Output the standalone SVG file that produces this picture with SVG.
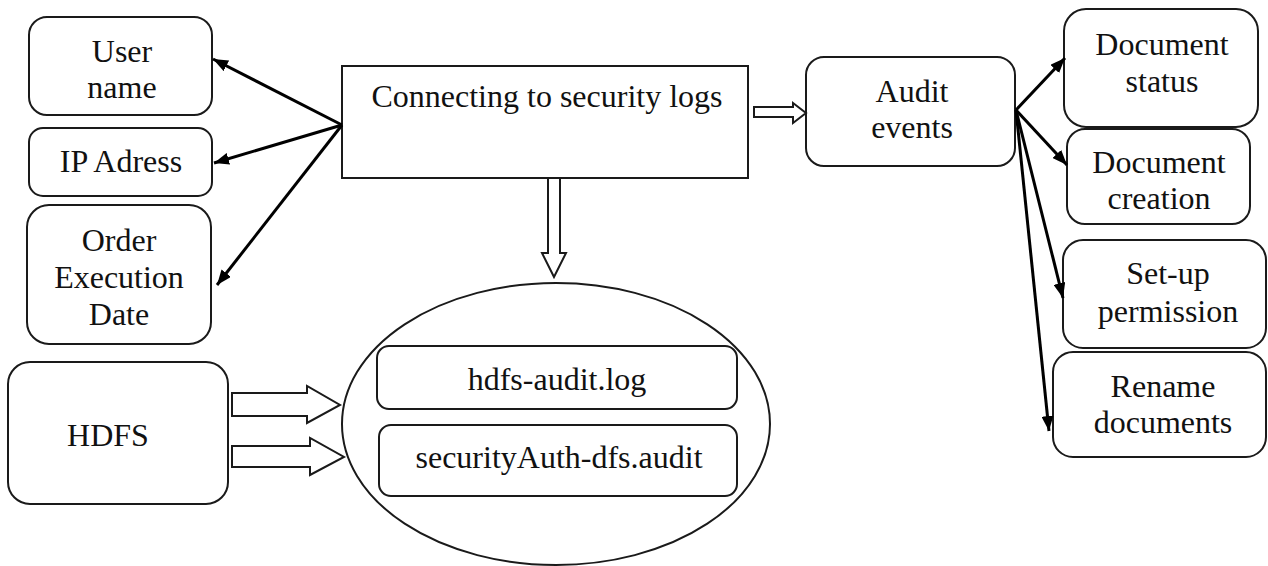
<svg xmlns="http://www.w3.org/2000/svg" width="1268" height="566" viewBox="0 0 1268 566">
<defs>
<style>
.box{fill:#fff;stroke:#1a1a1a;stroke-width:2}
.t{font-family:"Liberation Serif","Times New Roman",serif;font-size:32px;fill:#111;text-anchor:middle}
.ln{stroke:#000;stroke-width:3;fill:none}
.hol{fill:#fff;stroke:#1a1a1a;stroke-width:2;stroke-linejoin:miter}
</style>
<marker id="ah" viewBox="0 0 10 8" refX="10" refY="4" markerWidth="5" markerHeight="4" orient="auto" markerUnits="strokeWidth">
<path d="M0,0 L10,4 L0,8 z" fill="#000"/>
</marker>
</defs>
<rect width="1268" height="566" fill="#fff"/>

<g id="user-name"><rect class="box" x="29" y="17" width="183" height="98" rx="18"/><text class="t" x="122" y="62">User</text><text class="t" x="122" y="98">name</text></g>
<g id="ip-address"><rect class="box" x="29" y="128" width="183" height="68" rx="14"/><text class="t" x="121" y="172">IP Adress</text></g>
<g id="order-date"><rect class="box" x="27" y="205" width="184" height="139" rx="22"/><text class="t" x="119" y="251">Order</text><text class="t" x="119" y="288">Execution</text><text class="t" x="119" y="325">Date</text></g>
<g id="hdfs"><rect class="box" x="8" y="362" width="220" height="142" rx="22"/><text class="t" x="108" y="446">HDFS</text></g>
<g id="connecting"><rect class="box" x="342" y="66" width="406" height="112"/><text class="t" x="547" y="107">Connecting to security logs</text></g>
<g id="logs-ellipse"><ellipse cx="556" cy="424" rx="214" ry="141" fill="none" stroke="#1a1a1a" stroke-width="2"/></g>
<g id="hdfs-audit-log"><rect class="box" x="377" y="346" width="360" height="63" rx="12"/><text class="t" x="557" y="390">hdfs-audit.log</text></g>
<g id="securityauth"><rect class="box" x="379" y="425" width="358" height="71" rx="12"/><text class="t" x="559" y="468">securityAuth-dfs.audit</text></g>
<g id="audit-events"><rect class="box" x="806" y="57" width="209" height="109" rx="18"/><text class="t" x="912" y="102">Audit</text><text class="t" x="912" y="138">events</text></g>
<g id="document-status"><rect class="box" x="1064" y="9" width="194" height="118" rx="22"/><text class="t" x="1162" y="55">Document</text><text class="t" x="1162" y="92">status</text></g>
<g id="document-creation"><rect class="box" x="1067" y="129" width="183" height="95" rx="18"/><text class="t" x="1159" y="173">Document</text><text class="t" x="1159" y="209">creation</text></g>
<g id="setup-permission"><rect class="box" x="1063" y="240" width="203" height="108" rx="20"/><text class="t" x="1168" y="284">Set-up</text><text class="t" x="1168" y="322">permission</text></g>
<g id="rename-documents"><rect class="box" x="1053" y="352" width="213" height="105" rx="20"/><text class="t" x="1163" y="397">Rename</text><text class="t" x="1163" y="433">documents</text></g>

<g id="connectors">
<line class="ln" x1="342" y1="125" x2="213" y2="59" marker-end="url(#ah)"/>
<line class="ln" x1="342" y1="125" x2="214" y2="163" marker-end="url(#ah)"/>
<line class="ln" x1="342" y1="125" x2="217" y2="285" marker-end="url(#ah)"/>
<line class="ln" x1="1016" y1="110" x2="1065" y2="58" marker-end="url(#ah)"/>
<line class="ln" x1="1016" y1="110" x2="1067" y2="165" marker-end="url(#ah)"/>
<line class="ln" x1="1016" y1="110" x2="1063" y2="298" marker-end="url(#ah)"/>
<line class="ln" x1="1016" y1="110" x2="1049" y2="431" marker-end="url(#ah)"/>
<polygon class="hol" points="754,107 793,107 793,103 806,113 793,123 793,117 754,117"/>
<polygon class="hol" points="548,178 560,178 560,253 566,253 554,277 542,253 548,253"/>
<polygon class="hol" points="232,393 307,393 307,386 340,405 307,423 307,416 232,416"/>
<polygon class="hol" points="232,446 310,446 310,438 344,457 310,475 310,467 232,467"/>
</g>
</svg>
